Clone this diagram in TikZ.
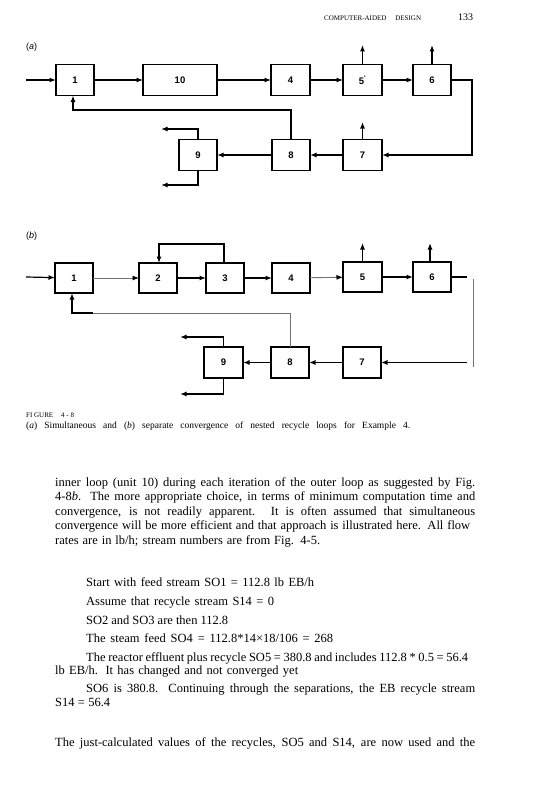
\documentclass[tikz,border=0pt]{standalone}
\usepackage{fontspec}
\setmainfont{Liberation Serif}
\newfontfamily\sansf{Liberation Sans}
\usetikzlibrary{arrows.meta}
\begin{document}
\begin{tikzpicture}[x=1pt,y=-1pt,
  blk/.style={draw,line width=1.3pt,inner sep=0pt,outer sep=0pt,minimum height=31pt,font=\sansf\bfseries\fontsize{9.5}{10}\selectfont},
  arr/.style={line width=1.2pt,-{Latex[length=6.5pt,width=5pt]}},
  ln/.style={line width=1.2pt},
  garr/.style={line width=0.9pt,draw=black!55,-{Latex[length=6.5pt,width=5pt,color=black]}},
  gln/.style={line width=0.9pt,draw=black!55},
  txt/.style={anchor=base west,inner sep=0pt,font=\fontsize{12.5}{14}\selectfont},
]
\useasboundingbox (0,0) rectangle (538,800);
% header
\node[anchor=base west,inner sep=0pt,font=\fontsize{7}{8}\selectfont] (hd) at (324,21) {COMPUTER-AIDED\hspace{9pt}DESIGN};
\node[anchor=base west,inner sep=0pt,font=\fontsize{10}{12}\selectfont] (pg) at (458,21) {133};
% ---------- panel (a)
\node[anchor=base west,inner sep=0pt,font=\sansf\fontsize{9}{10}\selectfont] (la) at (26,50) {(\textit{a})};
\node[blk,minimum width=38pt] (a1) at (75,80) {1};
\node[blk,minimum width=74pt] (a10) at (180,80) {10};
\node[blk,minimum width=39pt] (a4) at (290.5,80) {4};
\node[blk,minimum width=39pt] (a5) at (362.5,80) {5\textsuperscript{'}};
\node[blk,minimum width=38pt] (a6) at (432,80) {6};
\node[blk,minimum width=38pt] (a9) at (198,155) {9};
\node[blk,minimum width=38pt] (a8) at (291,155) {8};
\node[blk,minimum width=39pt] (a7) at (362.5,155) {7};
\coordinate (ain) at (26,80);
\coordinate (a5o) at (362.5,45);
\coordinate (a6o) at (432,45);
\coordinate (a7o) at (362.5,122);
\coordinate (ar) at (472,80);
\coordinate (afb) at (73,110);
\coordinate (a9t) at (161,129);
\coordinate (a9b) at (161,185);
\draw[arr] (ain) -- (a1);
\draw[arr] (a1) -- (a10);
\draw[arr] (a10) -- (a4);
\draw[arr] (a4) -- (a5);
\draw[arr] (a5) -- (a6);
\draw[arr] (a5.north) -- (a5o);
\draw[arr] (a6.north) -- (a6o);
\draw[arr] (a6.east) -- (ar) |- (a7.east);
\draw[arr] (a7.north) -- (a7o);
\draw[arr] (a7) -- (a8);
\draw[arr] (a8) -- (a9);
\draw[arr] (a8.north) |- (afb) -- (afb |- a1.south);
\draw[arr] (a9.north) |- (a9t);
\draw[arr,line width=1.6pt] (a9.south) |- (a9b);
% ---------- panel (b)
\node[anchor=base west,inner sep=0pt,font=\sansf\fontsize{9}{10}\selectfont] (lb) at (26,238) {(\textit{b})};
\node[blk,minimum width=38pt,minimum height=30pt] (b1) at (74,278) {1};
\node[blk,minimum width=38pt,minimum height=30pt] (b2) at (158,278) {2};
\node[blk,minimum width=38pt,minimum height=30pt] (b3) at (225,278) {3};
\node[blk,minimum width=38pt,minimum height=30pt] (b4) at (291,278) {4};
\node[blk,minimum width=39pt,minimum height=30pt] (b5) at (362.5,277) {5};
\node[blk,minimum width=38pt,minimum height=30pt] (b6) at (432,277) {6};
\node[blk,minimum width=39pt] (b9) at (223.5,362.5) {9};
\node[blk,minimum width=38pt] (b8) at (290,362.5) {8};
\node[blk,minimum width=38pt] (b7) at (362,362.5) {7};
\coordinate (bin) at (26,277);
\coordinate (bl) at (159,244);
\coordinate (b5o) at (362.5,243);
\coordinate (b6o) at (430,243);
\coordinate (b6e) at (467,277);
\coordinate (bvt) at (473,279);
\coordinate (bvb) at (473,367);
\coordinate (bh) at (467,362.5);
\coordinate (bfb) at (72,313);
\coordinate (bfm) at (93,313);
\coordinate (b9t) at (180,337);
\coordinate (b9b) at (180,394);
\draw[arr] (bin) -- (b1);
\draw[garr] (b1) -- (b2);
\draw[arr] (b2) -- (b3);
\draw[arr] (b3) -- (b4);
\draw[garr] (b4) -- (b5);
\draw[arr] (b5) -- (b6);
\draw[arr] (b3.north -| 224,0) |- (bl) -- (bl |- b2.north);
\draw[arr] (b5.north) -- (b5o);
\draw[arr] (b6.north -| b6o) -- (b6o);
\draw[ln] (b6.east |- b6e) -- (b6e);
\draw[gln] (bvt) -- (bvb);
\draw[arr] (bh) -- (b7.east);
\draw[arr] (b7) -- (b8);
\draw[arr,line width=1.6pt] (b8) -- (b9);
\draw[gln] (b8.north) |- (bfm);
\draw[arr,line width=1.6pt] (bfm) -- (bfb) -- (bfb |- b1.south);
\draw[arr] (b9.north) |- (b9t);
\draw[arr,line width=1.6pt] (b9.south) |- (b9b);
% ---------- caption
\node[anchor=base west,inner sep=0pt,font=\fontsize{7}{8}\selectfont] (fg) at (26,417.5) {FI GURE\hspace{8pt}4 - 8};
\node[anchor=base west,inner sep=0pt,font=\fontsize{9.5}{10}\selectfont] (cap) at (26,428) {\makebox[384pt][s]{(\textit{a}) Simultaneous and (\textit{b}) separate convergence of nested recycle loops for Example 4.}};
% ---------- body text
\node[txt] (t1) at (55,486) {\makebox[420pt][s]{inner loop (unit 10) during each iteration of the outer loop as suggested by Fig.}};
\node[txt] (t2) at (55,500) {\makebox[420pt][s]{4-8\textit{b}. The more appropriate choice, in terms of minimum computation time and}};
\node[txt] (t3) at (55,515) {\makebox[420pt][s]{convergence, is not readily apparent. It is often assumed that simultaneous}};
\node[txt] (t4) at (55,529) {\makebox[415pt][s]{convergence will be more efficient and that approach is illustrated here. All flow}};
\node[txt] (t5) at (55,544) {\makebox[265pt][s]{rates are in lb/h; stream numbers are from Fig. 4-5.}};
\node[txt] (t6) at (86,586) {\makebox[228pt][s]{Start with feed stream SO1 = 112.8 lb EB/h}};
\node[txt] (t7) at (86,605) {\makebox[188pt][s]{Assume that recycle stream S14 = 0}};
\node[txt] (t8) at (86,624) {\makebox[142pt][s]{SO2 and SO3 are then 112.8}};
\node[txt] (t9) at (86,642) {\makebox[247pt][s]{The steam feed SO4 = 112.8*14×18/106 = 268}};
\node[txt] (t10) at (86,661) {\makebox[382pt][s]{The reactor effluent plus recycle SO5 = 380.8 and includes 112.8 * 0.5 = 56.4}};
\node[txt] (t11) at (55,674) {\makebox[243pt][s]{lb EB/h. It has changed and not converged yet}};
\node[txt] (t12) at (86,692) {\makebox[389pt][s]{SO6 is 380.8. Continuing through the separations, the EB recycle stream}};
\node[txt] (t13) at (55,706) {\makebox[55pt][s]{S14 = 56.4}};
\node[txt] (t14) at (55,746) {\makebox[420pt][s]{The just-calculated values of the recycles, SO5 and S14, are now used and the}};
\end{tikzpicture}
\end{document}
